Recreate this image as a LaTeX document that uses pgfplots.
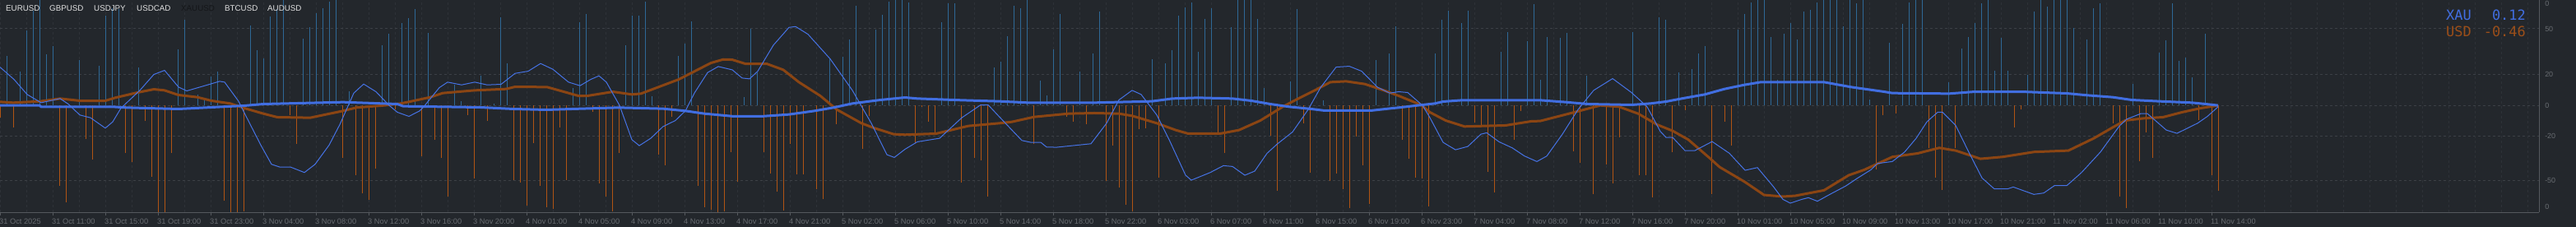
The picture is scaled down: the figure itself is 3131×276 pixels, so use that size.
\documentclass[border=0pt]{standalone}
\usepackage{pgfplots}
\pgfplotsset{compat=1.18}
\usepackage{fontspec}
\setmainfont{Liberation Sans}
\newfontfamily\monofont{DejaVu Sans Mono}
\definecolor{bgcol}{RGB}{35,39,44}
\definecolor{gridcol}{RGB}{60,64,70}
\definecolor{vgridcol}{RGB}{46,50,56}
\definecolor{axiscol}{RGB}{85,89,94}
\definecolor{tickcol}{RGB}{104,108,113}
\definecolor{bluebar}{RGB}{46,104,150}
\definecolor{orangebar}{RGB}{176,84,20}
\definecolor{usdline}{RGB}{139,69,19}
\definecolor{xauline}{RGB}{65,110,225}
\definecolor{thinblue}{RGB}{70,115,230}
\definecolor{xautext}{RGB}{65,110,225}
\definecolor{usdtext}{RGB}{155,78,25}
\definecolor{legtext}{RGB}{225,225,225}
\definecolor{legdark}{RGB}{20,22,25}
\begin{document}
\begin{tikzpicture}
\fill[bgcol] (0,0) rectangle (3131bp,276bp);
\begin{axis}[
  at={(0,18bp)}, anchor=south west,
  scale only axis, width=3086bp, height=258bp,
  xmin=0, xmax=3086, ymin=-390, ymax=385,
  enlargelimits=false,
  axis x line*=bottom, axis y line*=right,
  axis line style={draw=axiscol, line width=1bp, -},
  xtick={0,64,...,2688},
  xticklabels={31 Oct 2025,31 Oct 11:00,31 Oct 15:00,31 Oct 19:00,31 Oct 23:00,3 Nov 04:00,3 Nov 08:00,3 Nov 12:00,3 Nov 16:00,3 Nov 20:00,4 Nov 01:00,4 Nov 05:00,4 Nov 09:00,4 Nov 13:00,4 Nov 17:00,4 Nov 21:00,5 Nov 02:00,5 Nov 06:00,5 Nov 10:00,5 Nov 14:00,5 Nov 18:00,5 Nov 22:00,6 Nov 03:00,6 Nov 07:00,6 Nov 11:00,6 Nov 15:00,6 Nov 19:00,6 Nov 23:00,7 Nov 04:00,7 Nov 08:00,7 Nov 12:00,7 Nov 16:00,7 Nov 20:00,10 Nov 01:00,10 Nov 05:00,10 Nov 09:00,10 Nov 13:00,10 Nov 17:00,10 Nov 21:00,11 Nov 02:00,11 Nov 06:00,11 Nov 10:00,11 Nov 14:00},
  minor x tick num=1,
  extra x ticks={2720,2752,...,3072},
  extra x tick labels={},
  extra x tick style={major tick length=0pt},
  xmajorgrids, xminorgrids,
  x grid style={draw=vgridcol, line width=1bp, dash pattern=on 3bp off 3bp},
  tick align=outside,
  major tick length=4bp, minor tick length=0pt,
  xtick style={draw=axiscol, line width=1bp},
  xticklabel style={font=\fontsize{9.3}{11}\selectfont, text=tickcol, anchor=north west, inner sep=0pt, xshift=-1bp, yshift=-4bp},
  ytick={280,112,0,-111,-275},
  yticklabels={50,20,0,-20,-50},
  extra y ticks={373,-370},
  extra y tick labels={0,0},
  extra y tick style={grid=none},
  ymajorgrids,
  y grid style={draw=gridcol, line width=1bp, dash pattern=on 3bp off 3bp},
  ytick style={draw=none},
  yticklabel pos=right,
  yticklabel style={font=\fontsize{9}{11}\selectfont, text=tickcol, anchor=west, inner sep=0pt, xshift=3bp},
]
% bars (strength per bar)
\addplot[ycomb, draw=bluebar, line width=1bp, no marks] coordinates {
(8,181) (24,124) (32,274) (40,345) (48,385) (56,187) (64,217) (96,166) (120,145) (128,328) (136,355) (144,351) (168,139) (216,205) (224,313) (240,40) (248,20) (256,106) (264,124) (304,291) (312,202) (320,173) (328,325) (336,351) (344,385) (368,244) (376,286) (384,338) (392,355) (400,380) (408,385) (424,52) (464,220) (472,261) (488,301) (496,319) (504,351) (520,265) (552,75) (560,17) (584,110) (600,7) (608,322) (616,154) (696,64) (704,304) (712,334) (760,220) (768,328) (776,328) (784,379) (792,35) (824,181) (832,226) (840,307) (904,31) (912,281) (920,120) (1008,172) (1024,178) (1032,241) (1040,365) (1064,278) (1072,331) (1080,380) (1088,385) (1096,385) (1104,375) (1144,303) (1152,372) (1160,373) (1208,139) (1216,160) (1224,254) (1232,364) (1240,354) (1248,385) (1264,91) (1272,37) (1280,205) (1288,334) (1312,124) (1328,190) (1336,343) (1400,170) (1416,154) (1424,202) (1432,328) (1440,358) (1448,376) (1456,196) (1464,316) (1472,355) (1496,286) (1504,385) (1512,385) (1520,385) (1528,316) (1536,64) (1568,88) (1576,352) (1608,18) (1672,165) (1688,189) (1696,288) (1744,190) (1752,313) (1760,345) (1776,301) (1784,345) (1824,196) (1832,268) (1856,234) (1864,370) (1872,94) (1880,250) (1896,247) (1904,265) (1928,110) (1984,268) (2016,322) (2024,313) (2040,121) (2056,133) (2064,190) (2072,217) (2112,278) (2120,334) (2128,376) (2136,385) (2144,385) (2152,250) (2160,94) (2168,261) (2176,301) (2184,241) (2192,343) (2200,349) (2208,376) (2216,385) (2224,385) (2232,385) (2240,289) (2248,385) (2256,373) (2264,385) (2272,22) (2296,229) (2312,298) (2320,376) (2328,385) (2336,385) (2368,85) (2384,207) (2392,250) (2400,301) (2408,373) (2416,385) (2424,127) (2432,247) (2440,127) (2464,112) (2472,343) (2480,385) (2488,361) (2496,385) (2504,385) (2512,385) (2520,283) (2536,241) (2544,355) (2552,373) (2592,79) (2624,193) (2632,238) (2640,373) (2648,163) (2656,175) (2664,103) (2680,262)
};
\addplot[ycomb, draw=orangebar, line width=1bp, no marks] coordinates {
(0,-45) (16,-80) (72,-293) (80,-355) (104,-123) (112,-199) (152,-175) (160,-208) (176,-58) (184,-262) (192,-390) (200,-390) (208,-175) (272,-347) (280,-390) (288,-390) (296,-388) (352,-35) (360,-142) (416,-192) (432,-256) (440,-322) (448,-346) (456,-232) (480,-15) (512,-185) (528,-125) (536,-193) (544,-332) (568,-37) (576,-268) (592,-57) (624,-272) (632,-283) (640,-367) (648,-139) (656,-295) (664,-373) (672,-379) (680,-82) (688,-272) (720,-25) (728,-286) (736,-333) (744,-388) (752,-175) (800,-180) (808,-220) (816,-43) (848,-295) (856,-372) (864,-382) (872,-390) (880,-388) (888,-172) (896,-278) (928,-172) (936,-250) (944,-315) (952,-385) (960,-142) (968,-253) (976,-253) (992,-305) (1000,-342) (1016,-68) (1048,-160) (1056,-40) (1112,-138) (1120,-5) (1128,-61) (1136,-103) (1168,-283) (1184,-193) (1192,-202) (1200,-333) (1256,-142) (1296,-42) (1304,-61) (1320,-70) (1344,-275) (1352,-148) (1360,-301) (1368,-363) (1376,-388) (1384,-88) (1392,-85) (1408,-265) (1480,-108) (1488,-175) (1544,-110) (1552,-312) (1584,-65) (1592,-247) (1616,-277) (1624,-250) (1632,-307) (1640,-375) (1648,-115) (1656,-220) (1664,-361) (1704,-125) (1712,-195) (1720,-265) (1728,-268) (1736,-370) (1792,-62) (1800,-75) (1808,-242) (1816,-317) (1840,-125) (1848,-20) (1912,-167) (1920,-211) (1936,-325) (1952,-215) (1960,-286) (1968,-118) (1992,-256) (2000,-256) (2008,-337) (2032,-172) (2048,-17) (2080,-325) (2096,-61) (2104,-148) (2280,-235) (2288,-37) (2304,-31) (2344,-155) (2352,-265) (2360,-310) (2376,-155) (2448,-80) (2456,-15) (2568,-65) (2576,-333) (2584,-375) (2600,-205) (2608,-100) (2616,-193) (2672,-55) (2688,-255) (2696,-313)
};
% USD strength (thick orange)
\addplot[draw=usdline, line width=3bp, no marks] coordinates {
(0,13) (16,10) (49,15) (73,25) (97,17) (128,17) (140,28) (167,47) (187,59) (200,55) (217,38) (240,30) (257,17) (280,7) (297,-10) (320,-30) (337,-43) (377,-45) (417,-20) (433,-8) (467,0) (487,7) (500,15) (523,30) (538,45) (577,55) (615,60) (626,68) (665,67) (703,35) (714,35) (745,50) (768,40) (779,43) (825,95) (864,155) (879,168) (890,167) (906,152) (932,152) (952,130) (971,85) (997,35) (1017,-15) (1047,-65) (1062,-82) (1086,-105) (1100,-107) (1138,-103) (1177,-75) (1215,-65) (1230,-60) (1257,-42) (1299,-30) (1330,-28) (1360,-30) (1376,-38) (1406,-65) (1429,-90) (1444,-103) (1483,-103) (1506,-90) (1532,-55) (1559,-5) (1578,25) (1598,55) (1617,85) (1636,88) (1659,78) (1682,55) (1700,35) (1727,2) (1738,-25) (1757,-55) (1780,-77) (1830,-73) (1861,-58) (1872,-57) (1907,-30) (1945,0) (1968,-5) (1991,-30) (2014,-70) (2033,-93) (2052,-125) (2079,-195) (2090,-225) (2121,-280) (2144,-327) (2167,-333) (2182,-330) (2217,-310) (2247,-255) (2266,-235) (2300,-188) (2331,-175) (2357,-155) (2377,-165) (2407,-195) (2434,-188) (2472,-170) (2514,-165) (2545,-120) (2568,-80) (2583,-55) (2606,-47) (2629,-43) (2652,-25) (2675,-10) (2696,0)
};
% XAU strength (thick blue)
\addplot[draw=xauline, line width=3bp, no marks] coordinates {
(0,0) (48,0) (50,-5) (137,-5) (153,-8) (217,-13) (257,-7) (297,-1) (320,5) (417,12) (483,5) (490,-3) (584,-7) (624,-13) (664,-16) (695,-13) (752,-8) (806,-12) (833,-20) (856,-30) (892,-40) (925,-40) (959,-33) (990,-20) (1013,-8) (1036,7) (1070,20) (1100,29) (1115,25) (1169,19) (1215,15) (1249,10) (1330,10) (1400,15) (1425,25) (1456,28) (1498,25) (1521,17) (1544,5) (1567,-5) (1594,-13) (1610,-19) (1666,-19) (1690,-11) (1700,-8) (1723,0) (1744,7) (1754,14) (1777,19) (1872,19) (1903,12) (1930,5) (1983,2) (2006,7) (2025,14) (2044,25) (2072,40) (2096,60) (2120,75) (2140,85) (2217,85) (2250,67) (2290,50) (2300,45) (2369,43) (2400,50) (2457,50) (2512,44) (2537,37) (2568,30) (2591,20) (2625,15) (2664,10) (2681,5) (2696,0)
};
% thin blue oscillator
\addplot[draw=thinblue, line width=1bp, no marks] coordinates {
(0,140) (17,95) (33,40) (50,10) (73,25) (83,5) (97,-35) (110,-45) (128,-83) (137,-60) (147,-10) (170,55) (187,113) (200,128) (217,67) (227,53) (250,73) (267,88) (273,85) (290,15) (300,-45) (317,-145) (330,-215) (340,-225) (353,-225) (370,-245) (383,-215) (400,-145) (413,-70) (430,45) (442,78) (457,50) (473,0) (483,-25) (497,-40) (510,-20) (515,-5) (534,65) (544,85) (561,75) (577,85) (592,75) (609,77) (626,117) (642,125) (657,153) (672,132) (691,85) (705,72) (718,95) (728,108) (737,85) (753,0) (768,-125) (777,-147) (791,-120) (806,-77) (821,-55) (833,-20) (844,45) (860,120) (873,142) (890,130) (902,100) (911,97) (921,125) (940,220) (959,285) (967,288) (982,260) (1009,170) (1036,55) (1059,-65) (1078,-180) (1087,-190) (1100,-160) (1115,-133) (1142,-120) (1169,-45) (1192,2) (1201,2) (1222,-65) (1242,-128) (1253,-135) (1265,-135) (1272,-152) (1284,-153) (1326,-140) (1345,-65) (1360,20) (1376,55) (1387,40) (1406,-35) (1421,-125) (1441,-255) (1448,-273) (1471,-245) (1487,-220) (1498,-223) (1513,-255) (1525,-240) (1540,-175) (1552,-142) (1571,-97) (1590,-15) (1605,65) (1624,140) (1640,143) (1655,125) (1674,67) (1689,45) (1700,50) (1711,47) (1729,0) (1738,-45) (1754,-135) (1769,-162) (1784,-150) (1800,-105) (1807,-100) (1822,-133) (1838,-155) (1853,-185) (1868,-205) (1880,-185) (1899,-105) (1918,-15) (1937,55) (1960,98) (1983,47) (2002,-5) (2018,-95) (2025,-117) (2033,-117) (2048,-165) (2060,-165) (2081,-132) (2102,-175) (2121,-237) (2136,-227) (2155,-295) (2167,-343) (2176,-357) (2190,-343) (2198,-337) (2209,-350) (2224,-325) (2243,-295) (2258,-265) (2274,-235) (2282,-212) (2300,-205) (2315,-170) (2329,-120) (2342,-60) (2355,-25) (2361,-25) (2377,-73) (2392,-165) (2409,-265) (2424,-305) (2440,-305) (2447,-298) (2472,-325) (2484,-320) (2497,-293) (2512,-293) (2530,-245) (2553,-170) (2576,-75) (2585,-50) (2602,-30) (2610,-30) (2633,-90) (2646,-102) (2671,-65) (2683,-40) (2696,-5)
};
\end{axis}
% symbol tabs
\begin{scope}[every node/.style={inner sep=0pt, anchor=base west, font=\fontsize{9.8}{12}\selectfont}]
\node[text=legtext] at (7bp,262.7bp) {EURUSD};
\node[text=legtext] at (60bp,262.7bp) {GBPUSD};
\node[text=legtext] at (114bp,262.7bp) {USDJPY};
\node[text=legtext] at (166bp,262.7bp) {USDCAD};
\node[text=legdark] at (220bp,262.7bp) {XAUUSD};
\node[text=legtext] at (273bp,262.7bp) {BTCUSD};
\node[text=legtext] at (325bp,262.7bp) {AUDUSD};
\end{scope}
% current values
\begin{scope}[every node/.style={inner sep=0pt, font=\monofont\fontsize{17}{20}\selectfont}]
\node[text=xautext, anchor=base west] at (2973bp,251bp) {XAU};
\node[text=xautext, anchor=base east] at (3070bp,251bp) {0.12};
\node[text=usdtext, anchor=base west] at (2973bp,231bp) {USD};
\node[text=usdtext, anchor=base east] at (3070bp,231bp) {-0.46};
\end{scope}
\pgfresetboundingbox
\useasboundingbox (0,0) rectangle (3131bp,276bp);
\end{tikzpicture}
\end{document}
